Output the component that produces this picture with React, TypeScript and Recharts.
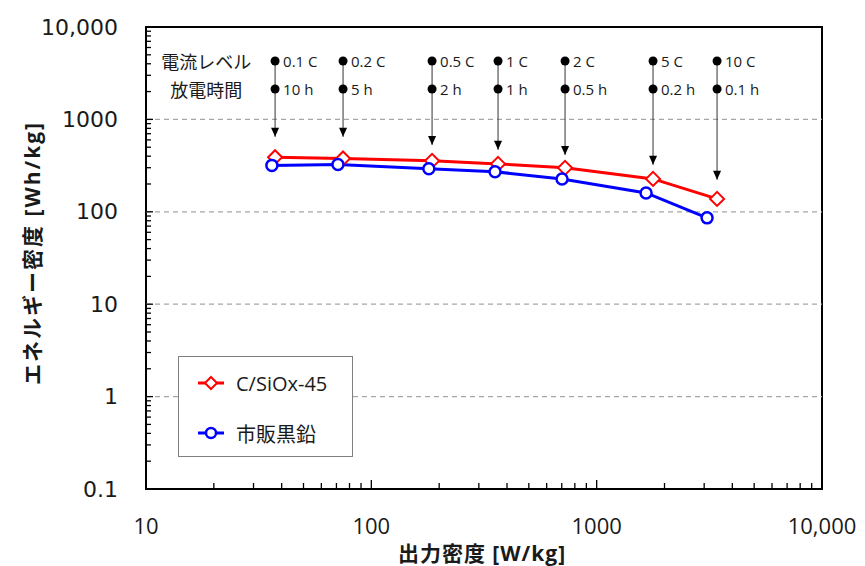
import React from 'react';
import { LineChart, Line, XAxis, YAxis, ReferenceLine, ReferenceDot, ReferenceArea } from 'recharts';

// values (log-log)
const redX = [37.4, 74.9, 186, 365, 724, 1779, 3422];
const redY = [390, 378, 356, 330, 299, 227, 138];
const blueX = [36.2, 71.1, 180, 354, 702, 1657, 3090];
const blueY = [318, 325, 292, 271, 227, 160, 86];

const rateLabels = ['0.1 C', '0.2 C', '0.5 C', '1 C', '2 C', '5 C', '10 C'];
const hourLabels = ['10 h', '5 h', '2 h', '1 h', '0.5 h', '0.2 h', '0.1 h'];
const arrowTips = [647, 647, 530, 468, 413, 322, 222];
const rateRowY = 4290;
const hourRowY = 2136;
const rowTitleX = 18.5;

const gridLines = [1, 10, 100, 1000];
const xDecades = [10, 100, 1000, 10000];
const yDecades = [0.1, 1, 10, 100, 1000, 10000];

const minorTicks = (decades: number[]) => {
  const out: number[] = [];
  decades.forEach((d, i) => {
    out.push(d);
    if (i < decades.length - 1) for (let k = 2; k <= 9; k++) out.push(+(d * k).toPrecision(3));
  });
  return out;
};
const xTicks = minorTicks(xDecades);
const yTicks = minorTicks(yDecades);

const redData = redX.map((x, i) => ({ x, y: redY[i] }));
const blueData = blueX.map((x, i) => ({ x, y: blueY[i] }));

const FONT = '"Open Sans", "Noto Sans CJK JP", sans-serif';
const JP = '"Noto Sans CJK JP", sans-serif';

const fmt = (v: number) => (v >= 10000 ? v.toLocaleString('en-US') : String(v));
const isMajor = (v: number, list: number[]) => list.includes(v);

const XTick = (props: any) => {
  const { x, y, payload } = props;
  const major = isMajor(payload.value, xDecades);
  return (
    <g>
      <line x1={x} x2={x} y1={y} y2={y - (major ? 9 : 6)} stroke="#000" strokeWidth={1.3} />
      {major && (
        <text x={x} y={y + 36} textAnchor="middle" dominantBaseline="central" fontSize={22} fontFamily={FONT} fill="#1a1a1a">
          {fmt(payload.value)}
        </text>
      )}
    </g>
  );
};

const YTick = (props: any) => {
  const { x, y, payload } = props;
  const major = isMajor(payload.value, yDecades);
  return (
    <g>
      <line x1={x} x2={x + (major ? 7 : 5)} y1={y} y2={y} stroke="#000" strokeWidth={1.3} />
      {major && (
        <text x={x - 28} y={y} textAnchor="end" dominantBaseline="central" fontSize={22} fontFamily='"DejaVu Sans", sans-serif' fill="#1a1a1a">
          {fmt(payload.value)}
        </text>
      )}
    </g>
  );
};

const Diamond = (props: any) => {
  const { cx, cy, index } = props;
  return (
    <path key={`d-${index}`} d={`M${cx},${cy - 7}L${cx + 7},${cy}L${cx},${cy + 7}L${cx - 7},${cy}Z`} fill="#fff" stroke="#ff0000" strokeWidth={2} />
  );
};

const Ring = (props: any) => {
  const { cx, cy, index } = props;
  return <circle key={`c-${index}`} cx={cx} cy={cy} r={5.5} fill="#fff" stroke="#0000ff" strokeWidth={2.5} />;
};

const dotLabel = (text: string) => (props: any) => (
  <g>
    <circle cx={props.cx} cy={props.cy} r={4.5} fill="#000" />
    <text x={props.cx + 8} y={props.cy} dominantBaseline="central" fontSize={15} fontFamily={FONT} fill="#1a1a1a">
      {text}
    </text>
  </g>
);

const rowTitle = (text: string) => (props: any) => (
  <text x={props.cx} y={props.cy} textAnchor="middle" dominantBaseline="central" fontSize={18} fontFamily={JP} fill="#1a1a1a">
    {text}
  </text>
);

const arrowHead = (props: any) => (
  <path d={`M${props.cx - 4},${props.cy - 9}L${props.cx + 4},${props.cy - 9}L${props.cx},${props.cy}Z`} fill="#000" />
);

const legendItems = [
  { name: 'C/SiOx-45', color: '#ff0000', diamond: true, top: 26 },
  { name: '市販黒鉛', color: '#0000ff', diamond: false, top: 76 },
];

const LegendBox = () => (
  <div style={{ position: 'absolute', left: 178, top: 356, width: 173, height: 99, border: '1px solid #808080', background: '#fff', fontFamily: FONT }}>
    {legendItems.map((e) => (
      <div key={e.name} style={{ position: 'absolute', left: 19, top: e.top - 14, height: 28, display: 'flex', alignItems: 'center' }}>
        <svg width={26} height={16}>
          <line x1={0} x2={26} y1={8} y2={8} stroke={e.color} strokeWidth={3} />
          {e.diamond ? (
            <path d="M13,2L19,8L13,14L7,8Z" fill="#fff" stroke={e.color} strokeWidth={2} />
          ) : (
            <circle cx={13} cy={8} r={5} fill="#fff" stroke={e.color} strokeWidth={2.5} />
          )}
        </svg>
        <span style={{ marginLeft: 12, fontSize: 20, color: '#1a1a1a', fontFamily: e.diamond ? FONT : JP }}>{e.name}</span>
      </div>
    ))}
  </div>
);

const titleStyle: React.CSSProperties = {
  position: 'absolute',
  fontFamily: FONT,
  fontWeight: 700,
  fontSize: 21,
  color: '#1a1a1a',
  whiteSpace: 'nowrap',
};

export default function App() {
  return (
    <div style={{ position: 'absolute', left: 0, top: 0, width: 865, height: 566, background: '#fff' }}>
      <LineChart width={865} height={566} margin={{ top: 27, right: 43, bottom: 0, left: 80 }}>
        <XAxis
          dataKey="x"
          type="number"
          scale="log"
          domain={[10, 10000]}
          allowDataOverflow
          ticks={xTicks}
          interval={0}
          tick={<XTick />}
          tickSize={0}
          tickMargin={0}
          tickLine={false}
          axisLine={false}
          height={77}
        />
        <YAxis
          type="number"
          scale="log"
          domain={[0.1, 10000]}
          allowDataOverflow
          ticks={yTicks}
          interval={0}
          tick={<YTick />}
          tickSize={0}
          tickMargin={0}
          tickLine={false}
          axisLine={false}
          width={66}
        />
        {gridLines.map((v) => (
          <ReferenceLine key={`g-${v}`} y={v} stroke="#a6a6a6" strokeDasharray="5 4" strokeWidth={1.2} />
        ))}
        {redX.map((x, i) => (
          <ReferenceLine key={`a-${i}`} segment={[{ x, y: rateRowY }, { x, y: arrowTips[i] }]} stroke="#333" strokeWidth={1} />
        ))}
        {redX.map((x, i) => (
          <ReferenceDot key={`h-${i}`} x={x} y={arrowTips[i]} r={4} shape={arrowHead} />
        ))}
        {redX.map((x, i) => (
          <ReferenceDot key={`r-${i}`} x={x} y={rateRowY} r={4} shape={dotLabel(rateLabels[i])} />
        ))}
        {redX.map((x, i) => (
          <ReferenceDot key={`t-${i}`} x={x} y={hourRowY} r={4} shape={dotLabel(hourLabels[i])} />
        ))}
        <ReferenceDot x={rowTitleX} y={rateRowY} r={1} shape={rowTitle('電流レベル')} />
        <ReferenceDot x={rowTitleX} y={hourRowY} r={1} shape={rowTitle('放電時間')} />
        <ReferenceArea x1={10} x2={10000} y1={0.1} y2={10000} fill="none" stroke="#000" strokeWidth={2} />
        <Line data={redData} dataKey="y" name="C/SiOx-45" stroke="#ff0000" strokeWidth={3} dot={<Diamond />} isAnimationActive={false} />
        <Line data={blueData} dataKey="y" name="市販黒鉛" stroke="#0000ff" strokeWidth={3} dot={<Ring />} isAnimationActive={false} />
      </LineChart>
      <LegendBox />
      <div style={{ ...titleStyle, left: 482, top: 552, letterSpacing: 1, transform: 'translate(-50%, -50%)' }}>
        出力密度 [W/kg]
      </div>
      <div style={{ ...titleStyle, left: 31, top: 253, letterSpacing: 2, transform: 'translate(-50%, -50%) rotate(-90deg)' }}>
        エネルギー密度 [Wh/kg]
      </div>
    </div>
  );
}
